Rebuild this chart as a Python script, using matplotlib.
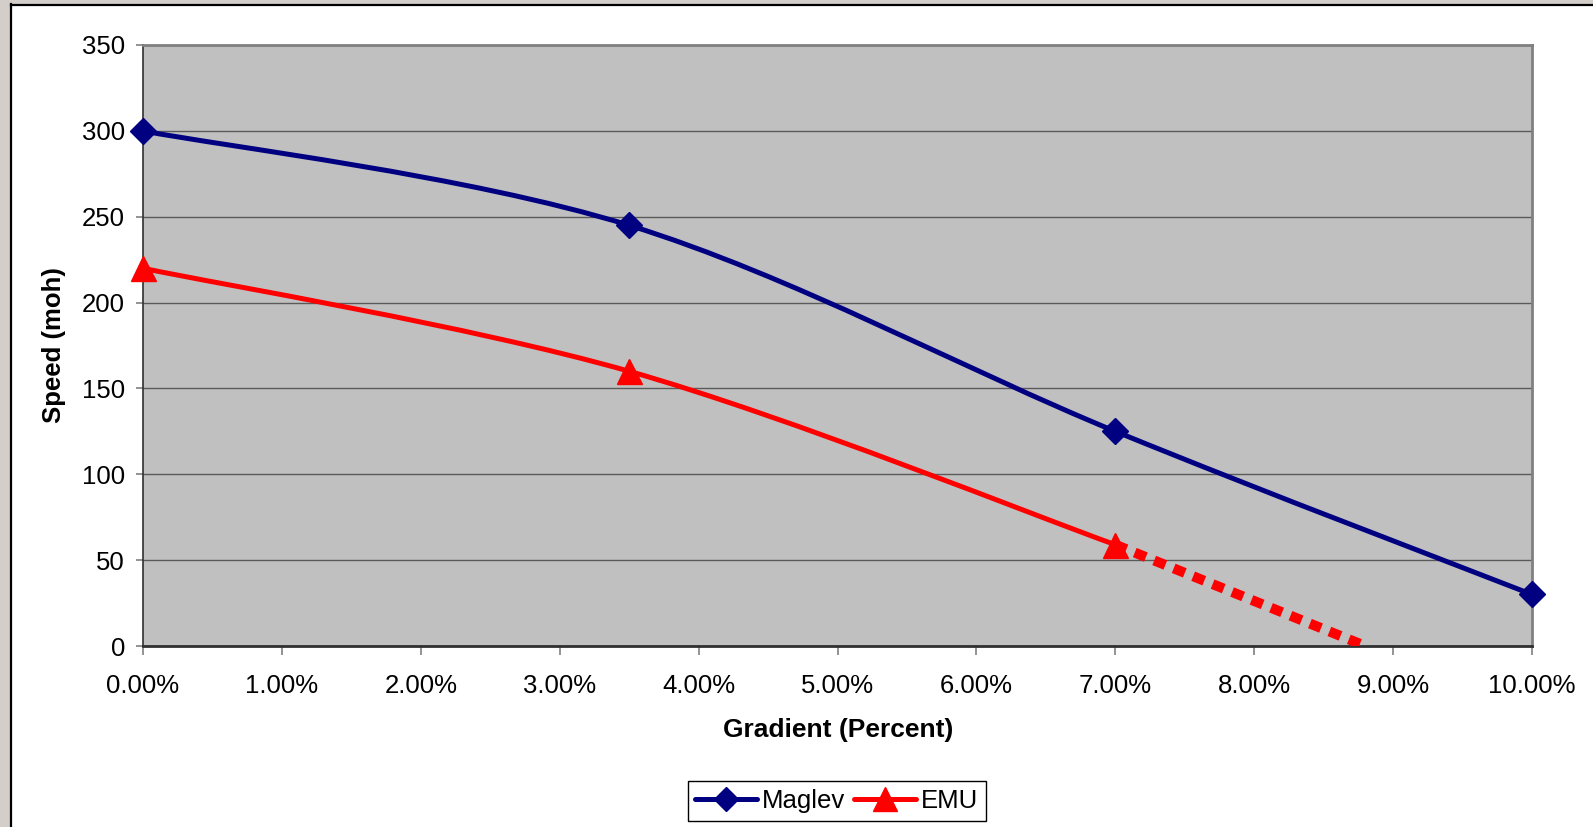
import matplotlib
matplotlib.use("Agg")
import matplotlib.pyplot as plt
from matplotlib.path import Path
from matplotlib.patches import PathPatch, Rectangle
from matplotlib.lines import Line2D
from matplotlib.ticker import PercentFormatter, MultipleLocator

plt.rcParams['font.family'] = ['Liberation Sans', 'DejaVu Sans']

# Speed versus gradient
gradient = [0.0, 0.035, 0.07, 0.10]
maglev_speed = [300, 245, 125, 30]
emu_gradient = [0.0, 0.035, 0.07]
emu_speed = [220, 160, 59]
emu_proj_gradient = [0.07, 0.088]
emu_proj_speed = [59, 0]

x_ticks = [i / 100 for i in range(0, 11)]
y_ticks = list(range(0, 351, 50))

NAVY = '#000080'
RED = '#FF0000'


def smooth_path(xs, ys):
    """Bezier path through the points (Catmull-Rom style smoothing)."""
    pts = list(zip(xs, ys))
    n = len(pts)
    verts = [pts[0]]
    codes = [Path.MOVETO]
    for i in range(n - 1):
        p0 = pts[max(i - 1, 0)]
        p1 = pts[i]
        p2 = pts[i + 1]
        p3 = pts[min(i + 2, n - 1)]
        c1 = (p1[0] + (p2[0] - p0[0]) / 6, p1[1] + (p2[1] - p0[1]) / 6)
        c2 = (p2[0] - (p3[0] - p1[0]) / 6, p2[1] - (p3[1] - p1[1]) / 6)
        verts += [c1, c2, p2]
        codes += [Path.CURVE4] * 3
    return Path(verts, codes)


W, H = 1593, 827
fig = plt.figure(figsize=(W / 100, H / 100), dpi=100)
fig.patch.set_facecolor('white')

# textured backdrop strips and chart frame
fig.patches.append(Rectangle((0, 0), 10 / W, 1, transform=fig.transFigure,
                             facecolor='#d3cec9', edgecolor='none', zorder=0))
fig.patches.append(Rectangle((0, 1 - 4 / H), 1, 4 / H, transform=fig.transFigure,
                             facecolor='#d3cec9', edgecolor='none', zorder=0))
fig.lines.append(Line2D([10.5 / W, 10.5 / W], [0, 1 - 4 / H], transform=fig.transFigure,
                        color='black', lw=1.6))
fig.lines.append(Line2D([10.5 / W, 1], [1 - 4.5 / H, 1 - 4.5 / H], transform=fig.transFigure,
                        color='black', lw=1.6))

left, right, top, bottom = 143, 1532, 45, 646
ax = fig.add_axes([left / W, 1 - bottom / H, (right - left) / W, (bottom - top) / H])
ax.set_facecolor('#C0C0C0')
ax.set_xlim(0, 0.10)
ax.set_ylim(0, 350)
ax.set_autoscale_on(False)

ax.yaxis.set_major_locator(MultipleLocator(50))
ax.set_xticks(x_ticks)
ax.set_yticks(y_ticks)
ax.xaxis.set_major_formatter(PercentFormatter(xmax=1, decimals=2))
ax.grid(axis='y', color='#5a5a5a', lw=1.0, zorder=1)
ax.set_axisbelow(True)

for side, col, lw in [('left', '#303030', 1.2), ('bottom', '#303030', 2.0),
                      ('top', '#808080', 2.0), ('right', '#808080', 2.0)]:
    ax.spines[side].set_color(col)
    ax.spines[side].set_linewidth(lw)

ax.tick_params(axis='y', direction='out', length=5, width=1.2, color='#808080',
               labelsize=18.5, pad=8, labelcolor='black')
ax.tick_params(axis='x', direction='out', length=6.5, width=1.2, color='#808080',
               labelsize=18.5, pad=13.5, labelcolor='black')

# smoothed series lines
ax.add_patch(PathPatch(smooth_path(gradient, maglev_speed), fill=False,
                       edgecolor=NAVY, lw=3.6, capstyle='round', joinstyle='round',
                       zorder=3))
ax.add_patch(PathPatch(smooth_path(emu_gradient, emu_speed), fill=False,
                       edgecolor=RED, lw=3.6, capstyle='round', joinstyle='round',
                       zorder=3))
# projected EMU speed (dotted)
ax.plot(emu_proj_gradient, emu_proj_speed, color=RED, lw=7.2,
        linestyle=(0, (1.2, 0.9)), dash_capstyle='butt', zorder=3)

# point markers
ax.plot(gradient, maglev_speed, linestyle='none', marker='D', markersize=13.2,
        color=NAVY, clip_on=False, zorder=4)
ax.plot(emu_gradient, emu_speed, linestyle='none', marker='^', markersize=18,
        color=RED, clip_on=False, zorder=4)

ax.set_xlabel('Gradient (Percent)', fontsize=19, fontweight='bold')
ax.set_ylabel('Speed (moh)', fontsize=18.5, fontweight='bold')
ax.xaxis.set_label_coords((838 - left) / (right - left), (bottom - 718) / (bottom - top))
ax.yaxis.set_label_coords((66 - left) / (right - left), 0.5)

handles = [
    Line2D([], [], color=NAVY, lw=3.6, marker='D', markersize=12.5, solid_capstyle='round'),
    Line2D([], [], color=RED, lw=3.6, marker='^', markersize=17, solid_capstyle='round'),
]
leg = fig.legend(handles, ['Maglev', 'EMU'], loc='center',
                 bbox_to_anchor=(837 / W, 1 - 801 / H), ncol=2, fontsize=18.5,
                 frameon=True, fancybox=False, edgecolor='black', framealpha=1,
                 handlelength=2.4, handletextpad=0.2, columnspacing=0.35,
                 borderpad=0.3, borderaxespad=0)
leg.get_frame().set_linewidth(1.0)

fig.savefig('out.png', dpi=100)
